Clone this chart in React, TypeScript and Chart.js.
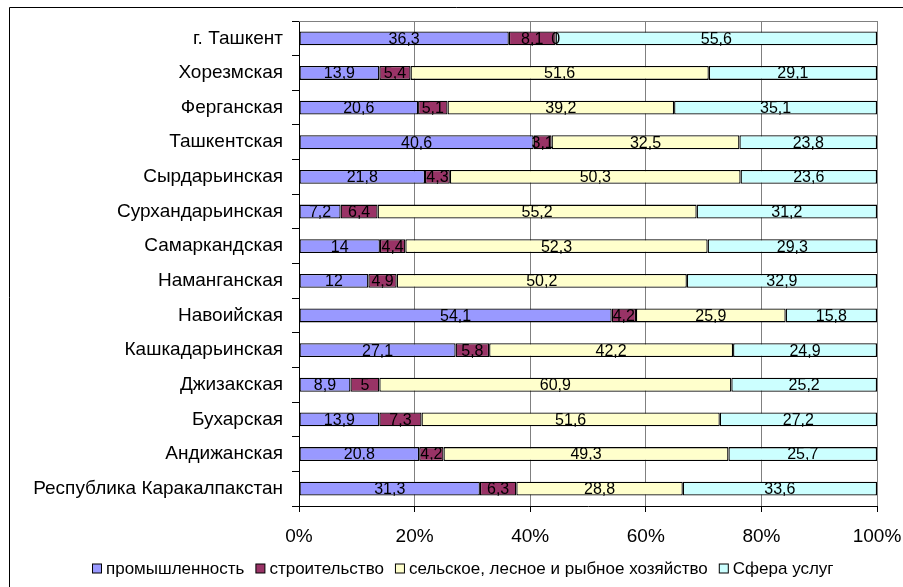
import React, { useEffect, useRef } from "react";
import { Chart, registerables } from "chart.js";

Chart.register(...registerables);

const categories = [
  "г. Ташкент",
  "Хорезмская",
  "Ферганская",
  "Ташкентская",
  "Сырдарьинская",
  "Сурхандарьинская",
  "Самаркандская",
  "Наманганская",
  "Навоийская",
  "Кашкадарьинская",
  "Джизакская",
  "Бухарская",
  "Андижанская",
  "Республика Каракалпакстан",
];

const industry = [36.3, 13.9, 20.6, 40.6, 21.8, 7.2, 14, 12, 54.1, 27.1, 8.9, 13.9, 20.8, 31.3];
const construction = [8.1, 5.4, 5.1, 3.1, 4.3, 6.4, 4.4, 4.9, 4.2, 5.8, 5, 7.3, 4.2, 6.3];
const agriculture = [0, 51.6, 39.2, 32.5, 50.3, 55.2, 52.3, 50.2, 25.9, 42.2, 60.9, 51.6, 49.3, 28.8];
const services = [55.6, 29.1, 35.1, 23.8, 23.6, 31.2, 29.3, 32.9, 15.8, 24.9, 25.2, 27.2, 25.7, 33.6];

const seriesNames = [
  "промышленность",
  "строительство",
  "сельское, лесное и рыбное хозяйство",
  "Сфера услуг",
];
const seriesColors = ["#9999FF", "#993366", "#FFFFCC", "#CCFFFF"];
const xTicks = [0, 20, 40, 60, 80, 100];

const FONT = '"Liberation Sans", Arial, sans-serif';

const labelPlugin = {
  id: "segLabels",
  afterDatasetsDraw(chart: any) {
    const ctx = chart.ctx;
    ctx.save();
    ctx.font = `16px ${FONT}`;
    ctx.fillStyle = "#000";
    ctx.textAlign = "center";
    ctx.textBaseline = "middle";
    chart.data.datasets.forEach((ds: any, di: number) => {
      const meta = chart.getDatasetMeta(di);
      meta.data.forEach((el: any, i: number) => {
        const v = ds.data[i];
        const txt = String(v).replace(".", ",");
        const cx = (el.x + el.base) / 2;
        ctx.fillText(txt, cx, el.y + 1);
      });
    });
    ctx.restore();
  },
};

const framePlugin = {
  id: "frame",
  afterDraw(chart: any) {
    const ctx = chart.ctx;
    const a = chart.chartArea;
    ctx.save();
    ctx.strokeStyle = "#000";
    ctx.lineWidth = 1;
    ctx.beginPath();
    ctx.moveTo(9.5, chart.height + 2);
    ctx.lineTo(9.5, 7.5);
    ctx.lineTo(chart.width + 2, 7.5);
    ctx.stroke();
    ctx.strokeStyle = "#808080";
    ctx.beginPath();
    ctx.moveTo(a.left, a.top + 0.5);
    ctx.lineTo(a.right, a.top + 0.5);
    ctx.stroke();

    // legend
    ctx.font = `17px ${FONT}`;
    ctx.textBaseline = "middle";
    ctx.textAlign = "left";
    const box = 9;
    const gapBoxText = 5;
    const gapItems = 11;
    const widths = seriesNames.map((n) => box + gapBoxText + ctx.measureText(n).width);
    const total = widths.reduce((s, w) => s + w, 0) + gapItems * (seriesNames.length - 1);
    let x = Math.round(463 - total / 2);
    const y = 568;
    seriesNames.forEach((n, i) => {
      ctx.fillStyle = seriesColors[i];
      ctx.fillRect(x + 0.5, y - box / 2 + 0.5, box, box);
      ctx.strokeStyle = "#000";
      ctx.strokeRect(x + 0.5, y - box / 2 + 0.5, box, box);
      ctx.fillStyle = "#000";
      ctx.fillText(n, x + box + gapBoxText, y + 1);
      x += widths[i] + gapItems;
    });
    ctx.restore();
  },
};

export default function App() {
  const ref = useRef<HTMLCanvasElement | null>(null);

  useEffect(() => {
    if (!ref.current) return;
    const allSeries = [industry, construction, agriculture, services];
    const chart = new Chart(ref.current, {
      type: "bar",
      data: {
        labels: categories,
        datasets: allSeries.map((d, i) => ({
          label: seriesNames[i],
          data: d,
          backgroundColor: seriesColors[i],
          borderColor: "#000",
          borderWidth: 1.3,
          borderSkipped: false,
          barPercentage: 0.4,
          categoryPercentage: 1,
        })),
      },
      options: {
        indexAxis: "y",
        responsive: false,
        animation: false,
        layout: { padding: { top: 21, right: 26, left: 0, bottom: 0 } },
        plugins: {
          legend: { display: false },
          tooltip: { enabled: false },
        },
        scales: {
          x: {
            stacked: true,
            min: 0,
            max: 100,
            afterBuildTicks(axis: any) {
              axis.ticks = xTicks.map((v) => ({ value: v }));
            },
            afterFit(axis: any) {
              axis.height = 81;
              axis.paddingLeft = 0;
              axis.paddingRight = 0;
            },
            grid: {
              color: "#808080",
              tickColor: "#000",
              tickLength: 6,
            },
            border: { color: "#000" },
            ticks: {
              color: "#000",
              font: { family: FONT, size: 19 },
              padding: 13,
              callback: (v: any) => v + "%",
              maxRotation: 0,
            },
          },
          y: {
            stacked: true,
            afterFit(axis: any) {
              axis.width = 299;
              axis.paddingTop = 0;
              axis.paddingBottom = 0;
            },
            grid: {
              drawOnChartArea: false,
              offset: true,
              tickColor: "#000",
              tickLength: 7,
            },
            border: { color: "#000" },
            ticks: {
              color: "#000",
              font: { family: FONT, size: 19 },
              padding: 9,
            },
          },
        },
      } as any,
      plugins: [labelPlugin, framePlugin],
    });
    return () => chart.destroy();
  }, []);

  return (
    <div style={{ position: "fixed", left: 0, top: 0, width: 903, height: 587, background: "#fff" }}>
      <canvas ref={ref} width={903} height={587} style={{ width: 903, height: 587, display: "block" }} />
    </div>
  );
}
